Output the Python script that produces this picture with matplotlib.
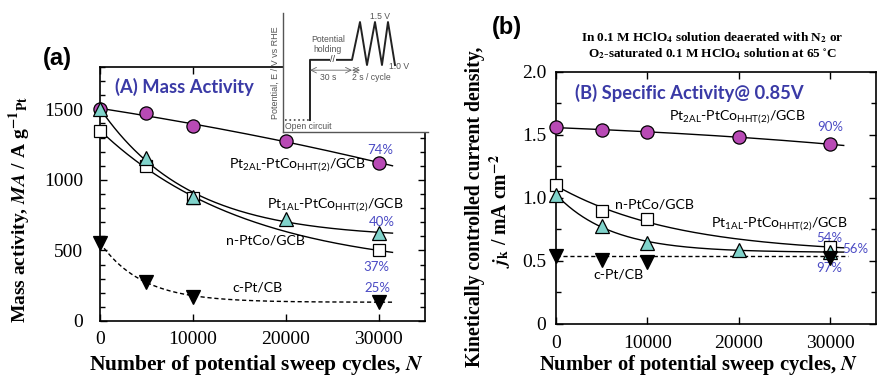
import numpy as np
import matplotlib
matplotlib.use("Agg")
import matplotlib.pyplot as plt
from matplotlib.ticker import MultipleLocator

plt.rcParams["mathtext.fontset"] = "custom"
plt.rcParams["mathtext.rm"] = "Lato"
plt.rcParams["mathtext.it"] = "Lato:italic"
plt.rcParams["mathtext.bf"] = "Lato:bold"

SERIF = "Liberation Serif"
SANS = "Lato"

# ---- (a) mass activity, A g^-1 Pt ----
cycles_a_pt2al = [0, 5000, 10000, 20000, 30000]
ma_pt2al = [1500, 1474, 1380, 1274, 1123]
cycles_a_pt1al = [0, 5000, 10000, 20000, 30000]
ma_pt1al = [1500, 1158, 880, 722, 622]
cycles_a_nptco = [0, 5000, 10000, 30000]
ma_nptco = [1345, 1099, 870, 502]
cycles_a_cpt = [0, 5000, 10000, 30000]
ma_cpt = [554, 278, 172, 137]
retention_a = ["74%", "40%", "37%", "25%"]

# ---- (b) specific activity, mA cm^-2 ----
cycles_b_pt2al = [0, 5000, 10000, 20000, 30000]
jk_pt2al = [1.562, 1.540, 1.521, 1.487, 1.425]
cycles_b_nptco = [0, 5000, 10000, 30000]
jk_nptco = [1.106, 0.900, 0.830, 0.607]
cycles_b_pt1al = [0, 5000, 10000, 20000, 30000]
jk_pt1al = [1.025, 0.780, 0.640, 0.590, 0.572]
cycles_b_cpt = [0, 5000, 10000, 30000]
jk_cpt = [0.540, 0.510, 0.490, 0.520]
retention_b = ["90%", "54%", "56%", "97%"]

# ---- potential program sketch (schematic units) ----
ocp_t = [2, 27]
ocp_e = [0.36, 0.36]
wave_t = [27, 27, 69, 77, 84, 92, 99, 105, 112]
wave_e = [0.36, 1.06, 1.06, 1.50, 1.00, 1.50, 1.00, 1.50, 1.00]

LBL_A = "Pt$_{\\mathrm{2AL}}$-PtCo$_{\\mathrm{HHT(2)}}$/GCB"
LBL_B = "Pt$_{\\mathrm{1AL}}$-PtCo$_{\\mathrm{HHT(2)}}$/GCB"

MAGENTA = "#b84ab5"
TEAL = "#80d3cb"
BLUE = "#3a3aa6"
PCT = "#4b4bc4"
LBL_SIZE = 10.2


def decay_fit(x, y, x_end):
    """Least-squares fit of y = a + b*exp(-k x), scanning k."""
    x = np.asarray(x, float)
    y = np.asarray(y, float)
    best = None
    for k in np.linspace(-8e-5, 3e-4, 1500):
        if abs(k) < 1e-7:
            continue
        A = np.column_stack([np.ones_like(x), np.exp(-k * x)])
        coef = np.linalg.lstsq(A, y, rcond=None)[0]
        err = np.sum((A @ coef - y) ** 2)
        if best is None or err < best[0]:
            best = (err, k, coef)
    _, k, (a, b) = best
    xs = np.linspace(0, x_end, 300)
    return xs, a + b * np.exp(-k * xs)


def style_axes(ax):
    for s in ax.spines.values():
        s.set_linewidth(1.2)
    ax.tick_params(which="both", direction="in", top=True, right=True, width=1.0)
    ax.tick_params(which="major", length=5)
    ax.tick_params(which="minor", length=3.5)
    for lab in ax.get_xticklabels() + ax.get_yticklabels():
        lab.set_fontfamily(SERIF)
        lab.set_fontsize(14)


mk = dict(markeredgecolor="black", markeredgewidth=0.9, linestyle="none", clip_on=False, zorder=5)

fig = plt.figure(figsize=(8.77, 3.78), dpi=100)

# ================= panel (a) =================
ax1 = fig.add_axes([0.114, 0.1508, 0.3706, 0.672])
x_end = 31500
for xs, ys, ls in [(cycles_a_pt2al, ma_pt2al, "-"), (cycles_a_pt1al, ma_pt1al, "-"),
                   (cycles_a_nptco, ma_nptco, "-"), (cycles_a_cpt, ma_cpt, "--")]:
    fx, fy = decay_fit(xs, ys, x_end)
    ax1.plot(fx, fy, color="black", lw=1.0, ls=ls, dashes=(3, 2) if ls == "--" else (None, None))

ax1.plot(cycles_a_nptco, ma_nptco, marker="s", ms=8, markerfacecolor="white", **mk)
ax1.plot(cycles_a_pt2al, ma_pt2al, marker="o", ms=9.5, markerfacecolor=MAGENTA, **mk)
ax1.plot(cycles_a_pt1al, ma_pt1al, marker="^", ms=9.5, markerfacecolor=TEAL, **mk)
ax1.plot(cycles_a_cpt, ma_cpt, marker="v", ms=9.5, markerfacecolor="black", **mk)

ax1.set_xlim(0, 35000)
ax1.set_ylim(0, 1800)
ax1.set_xticks([0, 10000, 20000, 30000])
ax1.set_yticks([0, 500, 1000, 1500])
ax1.yaxis.set_minor_locator(MultipleLocator(100))
style_axes(ax1)
ax1.tick_params(axis="y", pad=12)
ax1.tick_params(axis="x", pad=7)

ax1.text(9100, 1656, "(A) Mass Activity", color=BLUE, fontsize=13.2, fontweight="bold",
         family=SANS, ha="center", va="center")
ax1.text(21250, 1104, LBL_A, fontsize=LBL_SIZE, family=SANS, ha="center", va="center")
ax1.text(25350, 821, LBL_B, fontsize=LBL_SIZE, family=SANS, ha="center", va="center")
ax1.text(17800, 573, "n-PtCo/GCB", fontsize=LBL_SIZE, family=SANS, ha="center", va="center")
ax1.text(16950, 240, "c-Pt/CB", fontsize=LBL_SIZE, family=SANS, ha="center", va="center")
for (px, py), t in zip([(30200, 1210), (30300, 700), (29800, 382), (29900, 234)], retention_a):
    ax1.text(px, py, t, color=PCT, fontsize=9.5, family=SANS, ha="center", va="center")

fig.text(0.065, 0.846, "(a)", fontsize=17, fontweight="bold", family="Liberation Sans",
         ha="center", va="center")
fig.text(0.023, 0.445, "Mass activity, $\\mathbfit{MA}$ / A g$^{\\mathbf{-1}}$$_{\\mathbf{Pt}}$",
         rotation=90, fontsize=14, fontweight="bold", family=SERIF, math_fontfamily="stix",
         ha="center", va="center")
fig.text(0.292, 0.034, "Number of potential sweep cycles, $\\mathbfit{N}$", fontsize=15.5,
         fontweight="bold", family=SERIF, math_fontfamily="stix", ha="center", va="center")

# potential program inset
axi = fig.add_axes([0.3227, 0.6508, 0.1653, 0.3148])
axi.set_facecolor("white")
axi.set_xlim(0, 145)
axi.set_ylim(0.221, 1.605)
for s in ["top", "right"]:
    axi.spines[s].set_visible(False)
for s in ["left", "bottom"]:
    axi.spines[s].set_color("#555555")
    axi.spines[s].set_linewidth(1.0)
axi.set_xticks([])
axi.set_yticks([])
axi.plot(ocp_t, ocp_e, color="#444444", lw=1.2, ls=":")
axi.plot(wave_t, wave_e, color="#222222", lw=1.4)
axi.text(50, 1.06, "//", fontsize=6.5, color="#333333", ha="center", va="center",
         family="Liberation Sans", bbox=dict(fc="white", ec="none", pad=0.2))
axi.annotate("", xy=(27, 0.94), xytext=(69, 0.94),
             arrowprops=dict(arrowstyle="<->", lw=0.6, color="#666666", shrinkA=0, shrinkB=0))
axi.annotate("", xy=(69, 0.94), xytext=(77, 0.94),
             arrowprops=dict(arrowstyle="<->", lw=0.6, color="#666666", shrinkA=0, shrinkB=0))
tk = dict(fontsize=6.2, color="#555555", family="Liberation Sans")
axi.text(45, 1.24, "Potential\nholding", ha="center", va="center", linespacing=1.1, **tk)
axi.text(97, 1.57, "1.5 V", ha="center", va="center", **tk)
axi.text(116, 0.98, "1.0 V", ha="center", va="center", **tk)
axi.text(45, 0.86, "30 s", ha="center", va="center", **tk)
axi.text(88, 0.86, "2 s / cycle", ha="center", va="center", **tk)
axi.text(2, 0.28, "Open circuit", ha="left", va="center", **tk)
axi.set_ylabel("Potential, E / V vs RHE", fontsize=6.5, color="#555555",
               family="Liberation Sans", labelpad=2)

# ================= panel (b) =================
ax2 = fig.add_axes([0.634, 0.1429, 0.3645, 0.6667])
fx, fy = decay_fit(cycles_b_pt2al, jk_pt2al, 31500)
ax2.plot(fx, fy, color="black", lw=1.0)
fx, fy = decay_fit(cycles_b_nptco, jk_nptco, 31500)
ax2.plot(fx, fy, color="black", lw=1.0)
fx, fy = decay_fit(cycles_b_pt1al, jk_pt1al, 31500)
ax2.plot(fx, fy, color="black", lw=1.0)
# c-Pt/CB stays at its initial level
ax2.plot([0, 32000], [jk_cpt[0], jk_cpt[0]], color="black", lw=1.0, ls="--", dashes=(3, 2))

ax2.plot(cycles_b_pt2al, jk_pt2al, marker="o", ms=9.5, markerfacecolor=MAGENTA, **mk)
ax2.plot(cycles_b_nptco, jk_nptco, marker="s", ms=8, markerfacecolor="white", **mk)
ax2.plot(cycles_b_pt1al, jk_pt1al, marker="^", ms=9.5, markerfacecolor=TEAL, **mk)
ax2.plot(cycles_b_cpt, jk_cpt, marker="v", ms=9.5, markerfacecolor="black", **mk)

ax2.set_xlim(0, 35000)
ax2.set_ylim(0, 2.0)
ax2.set_xticks([0, 10000, 20000, 30000])
ax2.set_yticks([0, 0.5, 1.0, 1.5, 2.0])
ax2.set_yticklabels(["0", "0.5", "1.0", "1.5", "2.0"])
ax2.yaxis.set_minor_locator(MultipleLocator(0.25))
style_axes(ax2)
ax2.tick_params(axis="y", pad=7)
ax2.tick_params(axis="x", pad=8)

ax2.text(14570, 1.833, "(B) Specific Activity@ 0.85V", color=BLUE, fontsize=13.2,
         fontweight="bold", family=SANS, ha="center", va="center")
ax2.text(19800, 1.643, LBL_A, fontsize=LBL_SIZE, family=SANS, ha="center", va="center")
ax2.text(10790, 0.951, "n-PtCo/GCB", fontsize=LBL_SIZE, family=SANS, ha="center", va="center")
ax2.text(24480, 0.792, LBL_B, fontsize=LBL_SIZE, family=SANS, ha="center", va="center")
ax2.text(6850, 0.396, "c-Pt/CB", fontsize=LBL_SIZE, family=SANS, ha="center", va="center")
for (px, py), t in zip([(30000, 1.563), (29900, 0.684), (32750, 0.597), (29900, 0.441)],
                       retention_b):
    ax2.text(px, py, t, color=PCT, fontsize=9.5, family=SANS, ha="center", va="center",
             clip_on=False)

fig.text(0.578, 0.926, "(b)", fontsize=17, fontweight="bold", family="Liberation Sans",
         ha="center", va="center")
fig.text(0.812, 0.900, "In 0.1 M HClO$_{\\mathbf{4}}$ solution deaerated with N$_{\\mathbf{2}}$ or",
         fontsize=9.5, fontweight="bold", family=SERIF, math_fontfamily="stix",
         ha="center", va="center")
fig.text(0.812, 0.857, "O$_{\\mathbf{2}}$-saturated 0.1 M HClO$_{\\mathbf{4}}$ solution at 65 $^{\\circ}$C",
         fontsize=9.5, fontweight="bold", family=SERIF, math_fontfamily="stix",
         ha="center", va="center")
fig.text(0.542, 0.452, "Kinetically controlled current density,", rotation=90, fontsize=14.2,
         fontweight="bold", family=SERIF, ha="center", va="center")
fig.text(0.571, 0.442, "$\\mathbfit{j}_{\\mathbf{k}}$ / mA cm$^{\\mathbf{-2}}$", rotation=90,
         fontsize=14.2, fontweight="bold", family=SERIF, math_fontfamily="stix",
         ha="center", va="center")
fig.text(0.797, 0.034, "Number of potential sweep cycles, $\\mathbfit{N}$", fontsize=14.8,
         fontweight="bold", family=SERIF, math_fontfamily="stix", ha="center", va="center")

fig.savefig("out.png", dpi=100)
